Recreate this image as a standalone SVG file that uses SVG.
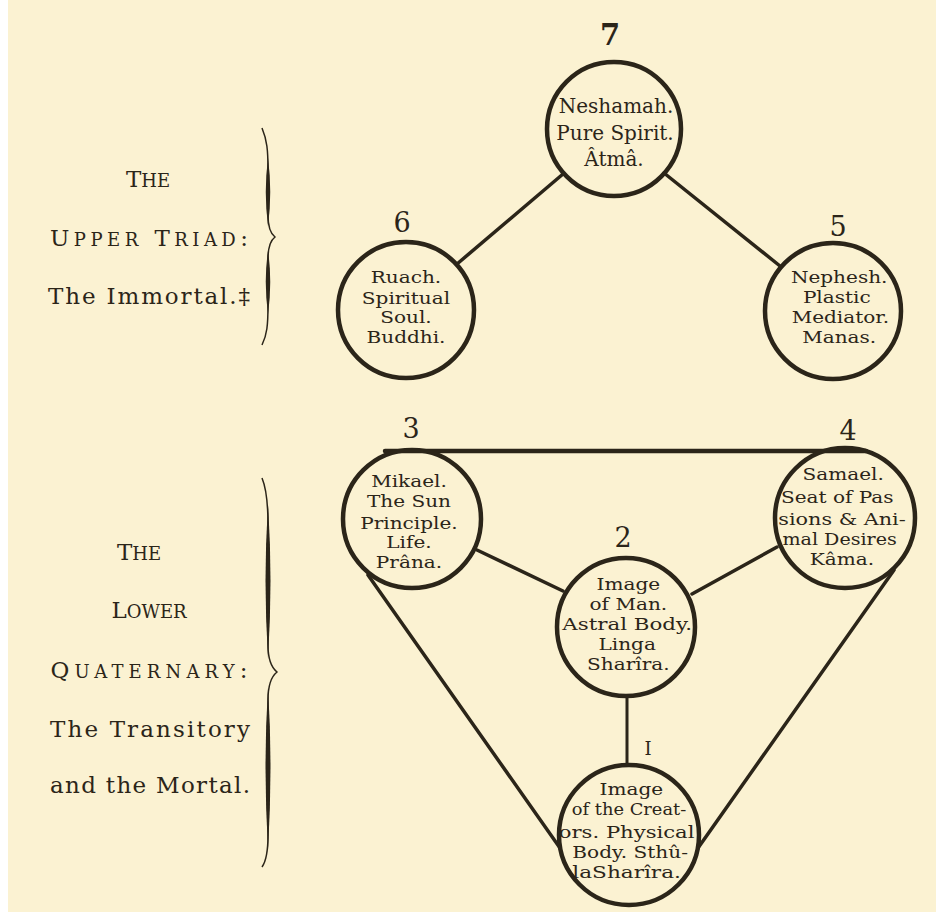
<svg xmlns="http://www.w3.org/2000/svg" width="942" height="917" viewBox="0 0 942 917">
<style>
.bg{fill:#fbf2d2}
.node circle{fill:none;stroke:#2b2519;stroke-width:4.5}
.node text{font-family:"DejaVu Serif","Liberation Serif",serif;font-size:17px;fill:#2b2519;text-anchor:middle}
.node .big{font-size:20px}
.node .num{font-size:27px}
.lbl{font-family:"DejaVu Serif","Liberation Serif",serif;font-size:23px;fill:#2b2519;text-anchor:middle}
.sc{font-size:18px}
#connectors line{stroke:#2b2519;stroke-width:3.5;stroke-linecap:round}
.brace{fill:none;stroke:#2b2519;stroke-width:1.5}
.lens{fill:#2b2519}
</style>
<rect width="942" height="917" fill="#ffffff"/>
<rect class="bg" x="8" y="0" width="928" height="912"/>

<g id="connectors">
<line x1="563" y1="174" x2="457" y2="264"/>
<line x1="664" y1="173" x2="780" y2="266"/>
<line x1="385" y1="451" x2="866" y2="451" style="stroke-width:4.5"/>
<line x1="477" y1="550" x2="563" y2="591"/>
<line x1="692" y1="594" x2="777" y2="547"/>
<line x1="627" y1="696" x2="627" y2="765" style="stroke-width:3"/>
<line x1="368" y1="575" x2="560" y2="848"/>
<line x1="894" y1="570" x2="698" y2="848"/>
<text class="lbl" x="648" y="755" style="font-size:18px">I</text>
</g>

<g id="node7" class="node">
<circle cx="614" cy="129" r="67"/>
<text class="num" x="610" y="45" style="font-size:29px;font-weight:bold">7</text>
<text class="big" x="616" y="113">Neshamah.</text>
<text class="big" x="615" y="140">Pure Spirit.</text>
<text class="big" x="614" y="166">Âtmâ.</text>
</g>

<g id="node6" class="node">
<circle cx="406" cy="310" r="68"/>
<text class="num" x="402" y="232">6</text>
<g transform="matrix(1.18,0,0,1,-73.08,0)">
<text x="406" y="283">Ruach.</text>
<text x="406" y="304">Spiritual</text>
<text x="406" y="323">Soul.</text>
<text x="406" y="343">Buddhi.</text>
</g>
</g>

<g id="node5" class="node">
<circle cx="833" cy="311" r="68"/>
<text class="num" x="838" y="236">5</text>
<g transform="matrix(1.18,0,0,1,-150.84,0)">
<text x="839" y="283">Nephesh.</text>
<text x="837" y="303">Plastic</text>
<text x="840" y="323">Mediator.</text>
<text x="839" y="343">Manas.</text>
</g>
</g>

<g id="node3" class="node">
<circle cx="412" cy="519" r="69"/>
<text class="num" x="411" y="438">3</text>
<g transform="matrix(1.18,0,0,1,-73.62,0)">
<text x="409" y="487">Mikael.</text>
<text x="409" y="507">The Sun</text>
<text x="409" y="529">Principle.</text>
<text x="409" y="548">Life.</text>
<text x="409" y="568">Prâna.</text>
</g>
</g>

<g id="node4" class="node">
<circle cx="845" cy="518" r="70"/>
<text class="num" x="848" y="440">4</text>
<g transform="matrix(1.18,0,0,1,-151.56,0)">
<text x="843" y="480">Samael.</text>
<text x="838" y="503">Seat of Pas</text>
<text x="842" y="525" textLength="108" lengthAdjust="spacingAndGlyphs">sions &amp; Ani-</text>
<text x="840" y="545" textLength="97" lengthAdjust="spacingAndGlyphs">mal Desires</text>
<text x="842" y="565">Kâma.</text>
</g>
</g>

<g id="node2" class="node">
<circle cx="626" cy="627" r="69"/>
<text class="num" x="623" y="547">2</text>
<g transform="matrix(1.18,0,0,1,-112.68,0)">
<text x="628" y="590">Image</text>
<text x="628" y="610">of Man.</text>
<text x="627" y="630" textLength="110" lengthAdjust="spacingAndGlyphs">Astral Body.</text>
<text x="627" y="650">Linga</text>
<text x="628" y="670">Sharîra.</text>
</g>
</g>

<g id="node1" class="node">
<circle cx="629" cy="835" r="70"/>
<g transform="matrix(1.18,0,0,1,-113.22,0)">
<text x="631" y="795">Image</text>
<text x="629" y="815" textLength="97" lengthAdjust="spacingAndGlyphs">of the Creat-</text>
<text x="627" y="838" textLength="115" lengthAdjust="spacingAndGlyphs">ors. Physical</text>
<text x="630" y="858" textLength="98" lengthAdjust="spacingAndGlyphs">Body. Sthû-</text>
<text x="627" y="878" textLength="92" lengthAdjust="spacingAndGlyphs">laSharîra.</text>
</g>
</g>

<g id="upper-label">
<text class="lbl" x="148" y="187">T<tspan class="sc">HE</tspan></text>
<text class="lbl" x="149" y="246" textLength="198" lengthAdjust="spacing">U<tspan class="sc">PPER</tspan> T<tspan class="sc">RIAD</tspan>:</text>
<text class="lbl" x="149" y="304" textLength="202" lengthAdjust="spacing">The Immortal.‡</text>
<path class="brace" d="M262,128 C267,140 268,150 268,170 L268,215 C268,228 271,234 275,237 C271,240 268,246 268,259 L268,305 C268,325 267,335 262,345"/>
<path class="lens" d="M268,158 Q272.5,192 268,226 Q263.5,192 268,158 Z"/>
<path class="lens" d="M268,250 Q272.5,282 268,314 Q263.5,282 268,250 Z"/>
</g>

<g id="lower-label">
<text class="lbl" x="139" y="560">T<tspan class="sc">HE</tspan></text>
<text class="lbl" x="149" y="618">L<tspan class="sc">OWER</tspan></text>
<text class="lbl" x="149" y="678" textLength="197" lengthAdjust="spacing">Q<tspan class="sc">UATERNARY</tspan>:</text>
<text class="lbl" x="150" y="737" textLength="200" lengthAdjust="spacing">The Transitory</text>
<text class="lbl" x="150" y="793" textLength="200" lengthAdjust="spacing">and the Mortal.</text>
<path class="brace" d="M262,478 C267,490 268,505 268,525 L268,645 C268,660 272,668 277,672 C272,676 268,684 268,700 L268,835 C268,850 267,860 262,867"/>
<path class="lens" d="M268,505 Q273,580 268,658 Q263,580 268,505 Z"/>
<path class="lens" d="M268,688 Q273,765 268,850 Q263,765 268,688 Z"/>
</g>
</svg>
